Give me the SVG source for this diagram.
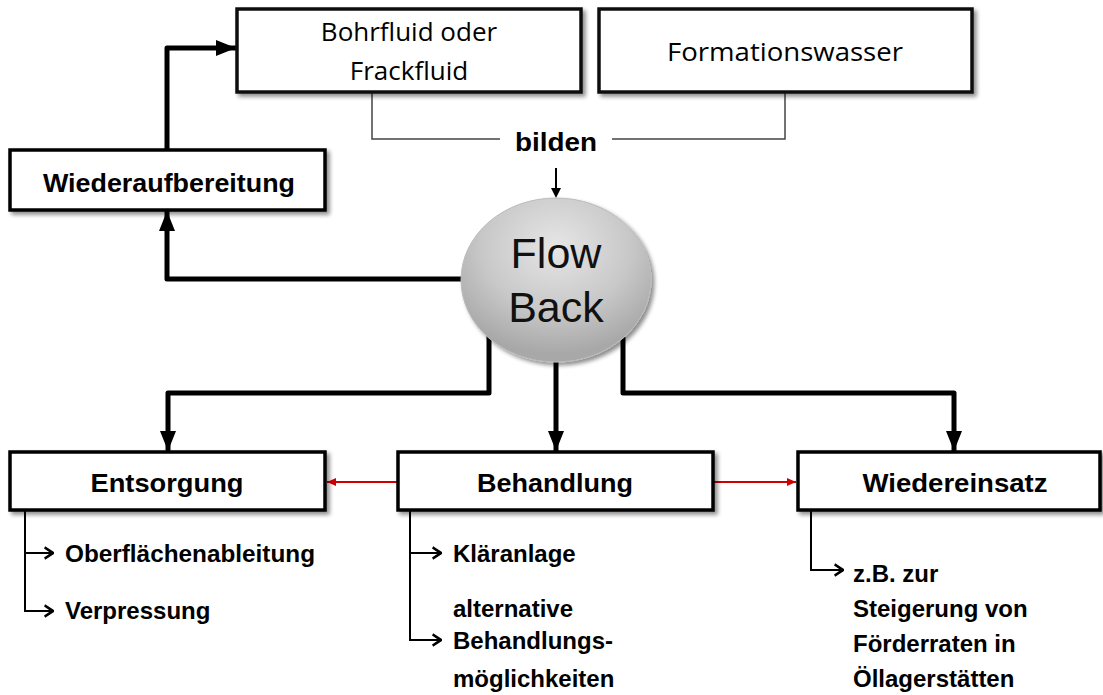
<svg xmlns="http://www.w3.org/2000/svg" width="1103" height="695" viewBox="0 0 1103 695">
<defs>
<style>
.box{fill:#fff;stroke:#000;stroke-width:3.5;filter:url(#sh)}
.tbox{fill:#fff;stroke:#111;stroke-width:3.5;filter:url(#sh)}
.seg{font-family:"Open Sans","Noto Sans",sans-serif;font-size:26px;fill:#000;text-anchor:middle}
.hb{font-family:"Liberation Sans",Arial,sans-serif;font-weight:bold;font-size:26px;fill:#000;text-anchor:middle}
.sb{font-family:"Liberation Sans",Arial,sans-serif;font-weight:bold;font-size:24px;fill:#000}
.fb{font-family:"Liberation Sans",Arial,sans-serif;font-size:43px;fill:#111;text-anchor:middle}
.thick{fill:none;stroke:#000;stroke-width:5;stroke-linejoin:round}
.thin{fill:none;stroke:#000;stroke-width:2}
.gray{fill:none;stroke:#444;stroke-width:1.5}
.red{fill:none;stroke:#d00000;stroke-width:2}
</style>
<filter id="sh" x="-5%" y="-10%" width="115%" height="140%">
<feGaussianBlur in="SourceAlpha" stdDeviation="2"/>
<feOffset dx="3" dy="3" result="b"/>
<feComponentTransfer><feFuncA type="linear" slope="0.45"/></feComponentTransfer>
<feMerge><feMergeNode/><feMergeNode in="SourceGraphic"/></feMerge>
</filter>
<radialGradient id="g" cx="0.5" cy="0.3" r="0.65">
<stop offset="0" stop-color="#e6e6e6"/>
<stop offset="0.6" stop-color="#c8c8c8"/>
<stop offset="1" stop-color="#a8a8a8"/>
</radialGradient>
<marker id="ab" markerWidth="10" markerHeight="10" refX="8" refY="5" orient="auto" markerUnits="userSpaceOnUse" viewBox="0 0 10 10">
<path d="M0,0 L10,5 L0,10 z" fill="#000"/>
</marker>
<marker id="abig" viewBox="0 0 10 10" refX="10" refY="5" markerWidth="20" markerHeight="16" orient="auto" markerUnits="userSpaceOnUse" preserveAspectRatio="none">
<path d="M0,0 L10,5 L0,10 z" fill="#000"/>
</marker>
<marker id="open" viewBox="0 0 10 10" refX="9" refY="5" markerWidth="12" markerHeight="14" orient="auto" markerUnits="userSpaceOnUse" preserveAspectRatio="none">
<path d="M2,1 L9,5 L2,9" fill="none" stroke="#000" stroke-width="2"/>
</marker>
<marker id="red" viewBox="0 0 10 10" refX="10" refY="5" markerWidth="9" markerHeight="8" orient="auto" markerUnits="userSpaceOnUse" preserveAspectRatio="none">
<path d="M0,0 L10,5 L0,10 z" fill="#d00000"/>
</marker>
</defs>
<rect width="1103" height="695" fill="#fff"/>

<g id="connectors">
<path class="gray" d="M372,92 V139 H500"/>
<path class="gray" d="M612,139 H785 V92"/>
<path class="thin" d="M556,168 V196" stroke-width="1.5" marker-end="url(#ab)"/>
<path class="thick" d="M167,150 V48 H220"/>
<line x1="218" y1="48" x2="236" y2="48" stroke="#000" stroke-width="5" marker-end="url(#abig)"/>
<path class="thick" d="M462,279 H167 V228"/>
<line x1="167" y1="230" x2="167" y2="211" stroke="#000" stroke-width="5" marker-end="url(#abig)"/>
<path class="thick" d="M489,335 V393 H168 V435"/>
<line x1="168" y1="433" x2="168" y2="451" stroke="#000" stroke-width="5" marker-end="url(#abig)"/>
<path class="thick" d="M556,362 V435"/>
<line x1="556" y1="433" x2="556" y2="451" stroke="#000" stroke-width="5" marker-end="url(#abig)"/>
<path class="thick" d="M623,337 V393 H954 V435"/>
<line x1="954" y1="433" x2="954" y2="451" stroke="#000" stroke-width="5" marker-end="url(#abig)"/>
<path class="red" d="M398,482 H327" marker-end="url(#red)"/>
<path class="red" d="M713,482 H796" marker-end="url(#red)"/>
<path class="thin" d="M25,510 V611 H53" marker-end="url(#open)"/>
<path class="thin" d="M25,553 H53" marker-end="url(#open)"/>
<path class="thin" d="M410,510 V640 H441" marker-end="url(#open)"/>
<path class="thin" d="M410,553 H441" marker-end="url(#open)"/>
<path class="thin" d="M811,510 V570 H843" marker-end="url(#open)"/>
</g>

<g id="n-bohrfluid">
<rect class="tbox" x="237" y="9" width="344" height="83"/>
<text class="seg" x="409" y="41">Bohrfluid oder</text>
<text class="seg" x="409" y="80">Frackfluid</text>
</g>
<g id="n-formationswasser">
<rect class="tbox" x="599" y="9" width="373" height="83"/>
<text class="seg" x="785" y="61" textLength="236" lengthAdjust="spacingAndGlyphs">Formationswasser</text>
</g>
<g id="n-bilden">
<text class="hb" x="556" y="151" textLength="82" lengthAdjust="spacingAndGlyphs">bilden</text>
</g>
<g id="n-wiederaufbereitung">
<rect class="box" x="10" y="150" width="315" height="60"/>
<text class="hb" x="169" y="192" textLength="252" lengthAdjust="spacingAndGlyphs">Wiederaufbereitung</text>
</g>
<g id="n-flowback">
<ellipse cx="556" cy="280" rx="95" ry="82" fill="url(#g)" stroke="#bbb" stroke-width="1" filter="url(#sh)"/>
<text class="fb" x="556" y="268">Flow</text>
<text class="fb" x="556" y="322">Back</text>
</g>
<g id="n-entsorgung">
<rect class="box" x="10" y="452" width="315" height="58"/>
<text class="hb" x="167" y="492" textLength="153" lengthAdjust="spacingAndGlyphs">Entsorgung</text>
<text class="sb" x="65" y="562" textLength="250" lengthAdjust="spacingAndGlyphs">Oberflächenableitung</text>
<text class="sb" x="65" y="619">Verpressung</text>
</g>
<g id="n-behandlung">
<rect class="box" x="398" y="452" width="315" height="58"/>
<text class="hb" x="555" y="492" textLength="156" lengthAdjust="spacingAndGlyphs">Behandlung</text>
<text class="sb" x="453" y="562">Kläranlage</text>
<text class="sb" x="453" y="617">alternative</text>
<text class="sb" x="453" y="649">Behandlungs-</text>
<text class="sb" x="453" y="687">möglichkeiten</text>
</g>
<g id="n-wiedereinsatz">
<rect class="box" x="798" y="452" width="302" height="58"/>
<text class="hb" x="955" y="492" textLength="185" lengthAdjust="spacingAndGlyphs">Wiedereinsatz</text>
<text class="sb" x="853" y="582">z.B. zur</text>
<text class="sb" x="853" y="617">Steigerung von</text>
<text class="sb" x="853" y="652">Förderraten in</text>
<text class="sb" x="853" y="687">Öllagerstätten</text>
</g>
</svg>
